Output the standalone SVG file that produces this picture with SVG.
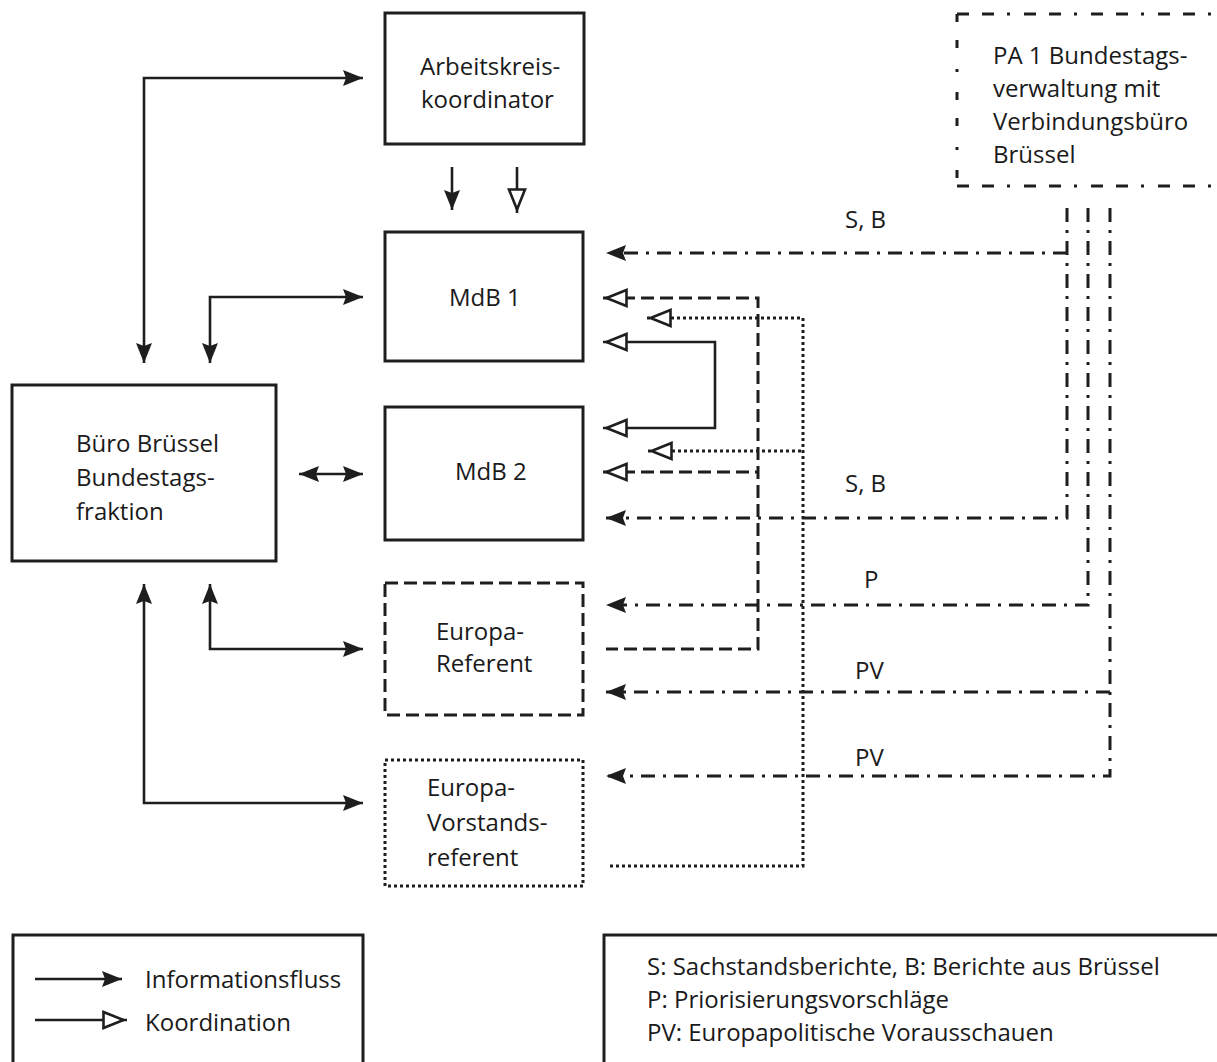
<svg xmlns="http://www.w3.org/2000/svg" width="1217" height="1062" viewBox="0 0 1217 1062">
<style>
.box{fill:none;stroke:#1e1e1e;stroke-width:3}
.bdash{stroke-dasharray:13 6}
.bdot{stroke-dasharray:3 3}
.t{font-family:"Open Sans","Noto Sans","DejaVu Sans",sans-serif;font-size:24px;fill:#1a1a1a}
.ln{fill:none;stroke:#1e1e1e;stroke-width:2.6}
.dashed{stroke-width:3;stroke-dasharray:13 6}
.dotted{stroke-width:3;stroke-dasharray:3 3}
.dashdot{stroke-width:3;stroke-dasharray:14 8 3 8}
</style>
<defs>
<marker id="af" markerUnits="userSpaceOnUse" markerWidth="22" markerHeight="18" refX="20" refY="8" orient="auto-start-reverse" overflow="visible">
<path d="M0,0 L20,8 L0,16 L3,8 Z" fill="#1e1e1e" stroke="none"/>
</marker>
<marker id="ah" markerUnits="userSpaceOnUse" markerWidth="28" markerHeight="20" refX="25.5" refY="9.5" orient="auto-start-reverse" overflow="visible">
<path d="M2,1.5 L22,9.5 L2,17.5 Z" fill="#fff" stroke="#1e1e1e" stroke-width="2.6" stroke-dasharray="none"/>
</marker>
</defs>
<rect width="1217" height="1062" fill="#fff"/>

<g id="node-arbeitskreis">
<rect class="box" x="385" y="13" width="199" height="131"/>
<text class="t" x="420" y="75">Arbeitskreis-</text>
<text class="t" x="421" y="108">koordinator</text>
</g>
<g id="node-mdb1">
<rect class="box" x="385" y="232" width="198" height="129"/>
<text class="t" x="449" y="306">MdB 1</text>
</g>
<g id="node-mdb2">
<rect class="box" x="385" y="407" width="198" height="133"/>
<text class="t" x="455" y="480">MdB 2</text>
</g>
<g id="node-buero">
<rect class="box" x="12" y="385" width="264" height="176"/>
<text class="t" x="76" y="452">Büro Brüssel</text>
<text class="t" x="76" y="486">Bundestags-</text>
<text class="t" x="76" y="520">fraktion</text>
</g>
<g id="node-europa-referent">
<rect class="box bdash" x="385" y="583" width="198" height="132"/>
<text class="t" x="436" y="640">Europa-</text>
<text class="t" x="436" y="672">Referent</text>
</g>
<g id="node-europa-vorstandsreferent">
<rect class="box bdot" x="385" y="760" width="198" height="126"/>
<text class="t" x="427" y="796">Europa-</text>
<text class="t" x="427" y="831">Vorstands-</text>
<text class="t" x="427" y="866">referent</text>
</g>
<g id="node-pa1">
<path class="box" d="M957 14 H1217" style="stroke-dasharray:12 13 12 13 3 14"/>
<path class="box" d="M957 186 H1217" style="stroke-dasharray:12 13 12 13 3 14"/>
<path class="box" d="M957 14 V186" style="stroke-dasharray:8 18 8 21 3 20"/>
<text class="t" x="993" y="64">PA 1 Bundestags-</text>
<text class="t" x="993" y="97">verwaltung mit</text>
<text class="t" x="993" y="130">Verbindungsbüro</text>
<text class="t" x="993" y="163">Brüssel</text>
</g>

<g id="connectors">
<path class="ln" d="M452 167 V210" marker-end="url(#af)"/>
<path class="ln" d="M517 167 V213" marker-end="url(#ah)"/>
<path class="ln" d="M144 363 V78 H363" marker-start="url(#af)" marker-end="url(#af)"/>
<path class="ln" d="M210 363 V297 H363" marker-start="url(#af)" marker-end="url(#af)"/>
<path class="ln" d="M299 474 H363" marker-start="url(#af)" marker-end="url(#af)"/>
<path class="ln" d="M210 584 V649 H363" marker-start="url(#af)" marker-end="url(#af)"/>
<path class="ln" d="M144 584 V803 H363" marker-start="url(#af)" marker-end="url(#af)"/>

<path class="ln" d="M603 342 H715 V428 H603" marker-start="url(#ah)" marker-end="url(#ah)"/>
<path class="ln dashed" d="M603 298 H758 V649 H606" marker-start="url(#ah)"/>
<path class="ln dashed" d="M603 472 H758" marker-start="url(#ah)"/>
<path class="ln dotted" d="M647 318 H803 V866 H607" marker-start="url(#ah)"/>
<path class="ln dotted" d="M648 451 H803" marker-start="url(#ah)"/>

<path class="ln dashdot" d="M1067 208 V518 H606" marker-end="url(#af)"/>
<path class="ln dashdot" d="M1067 253 H606" marker-end="url(#af)"/>
<path class="ln dashdot" d="M1088 208 V605 H606" marker-end="url(#af)"/>
<path class="ln dashdot" d="M1110 208 V776 H606" marker-end="url(#af)"/>
<path class="ln dashdot" d="M1110 692 H606" marker-end="url(#af)"/>

<text class="t" x="845" y="228">S, B</text>
<text class="t" x="845" y="492">S, B</text>
<text class="t" x="864" y="588">P</text>
<text class="t" x="855" y="679">PV</text>
<text class="t" x="855" y="766">PV</text>
</g>

<g id="legend-arrows">
<rect class="box" x="13" y="935" width="350" height="200"/>
<path class="ln" d="M35 979 H122" marker-end="url(#af)"/>
<path class="ln" d="M35 1020 H127" marker-end="url(#ah)"/>
<text class="t" x="145" y="988">Informationsfluss</text>
<text class="t" x="145" y="1031">Koordination</text>
</g>
<g id="legend-abbreviations">
<rect class="box" x="604" y="935" width="700" height="200"/>
<text class="t" x="647" y="975">S: Sachstandsberichte, B: Berichte aus Brüssel</text>
<text class="t" x="647" y="1008">P: Priorisierungsvorschläge</text>
<text class="t" x="647" y="1041">PV: Europapolitische Vorausschauen</text>
</g>
</svg>
